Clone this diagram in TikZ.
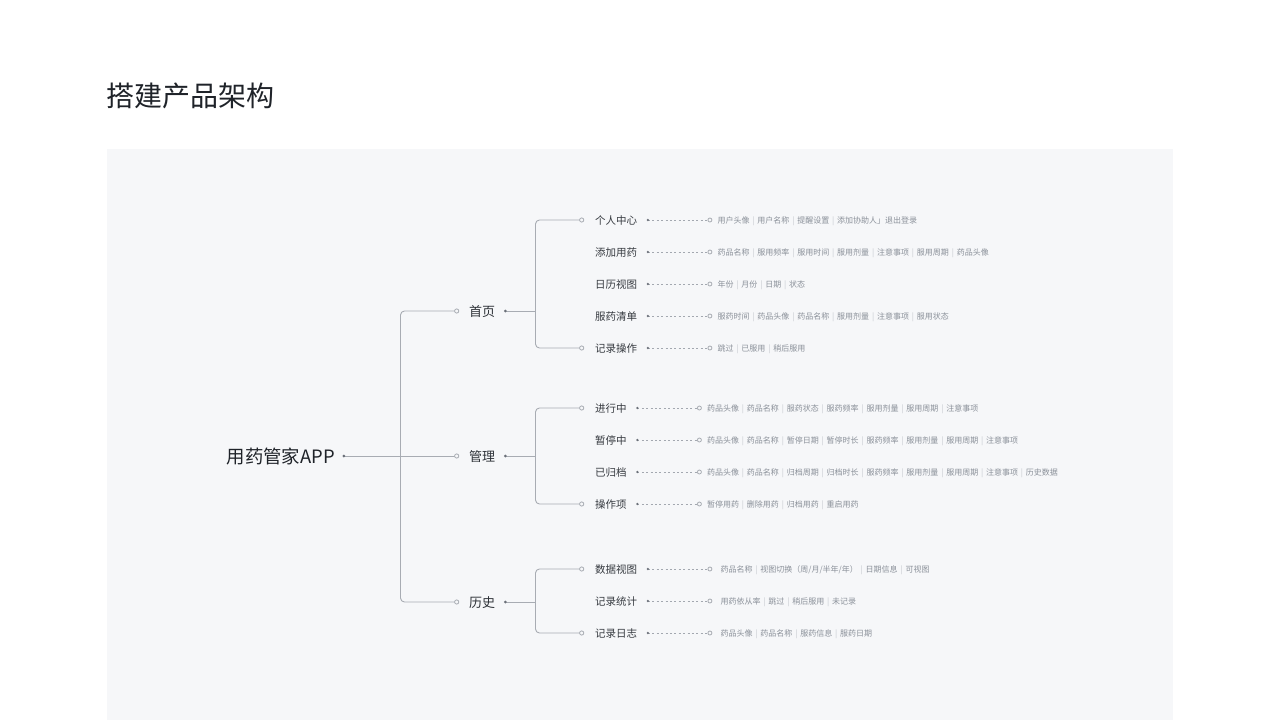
\documentclass[tikz,border=0pt]{standalone}
\usepackage{fontspec}
\setmainfont{Noto Sans CJK SC}
\usetikzlibrary{calc}
\definecolor{panel}{HTML}{F6F7F9}
\definecolor{titlec}{HTML}{1F2329}
\definecolor{lonec}{HTML}{2E3238}
\definecolor{leafc}{HTML}{363A40}
\definecolor{detailc}{HTML}{8A9099}
\definecolor{sepc}{HTML}{C4C8CE}
\definecolor{linec}{HTML}{A8ACB3}
\definecolor{dotc}{HTML}{6B7079}
\definecolor{dashc}{HTML}{A3A8B0}
\newcommand\sepbar{\hspace{2.85pt}{\color{sepc}|}\hspace{2.85pt}}
\tikzset{
  titletext/.style={font=\fontsize{28}{32}\selectfont, text=titlec, anchor=base west, inner sep=0pt},
  rootnode/.style={font=\fontsize{18.4}{22}\selectfont, text=titlec, anchor=west, inner sep=0pt, text height=15.4pt, text depth=0.9pt},
  lone/.style={font=\fontsize{13}{16}\selectfont, text=lonec, anchor=west, inner sep=0pt, text height=11.2pt, text depth=0.65pt},
  leaf/.style={font=\fontsize{10.5}{13}\selectfont, text=leafc, anchor=west, inner sep=0pt, text height=9.4pt, text depth=0.5pt},
  detail/.style={font=\fontsize{8}{10}\selectfont, text=detailc, anchor=west, inner sep=0pt, text height=7.2pt, text depth=0.4pt},
  conn/.style={draw=linec, line width=0.9pt, rounded corners=4pt},
  dashline/.style={draw=dashc, line width=0.8pt, dash pattern=on 2pt off 2.4pt},
  opencirc/.style={draw=linec, line width=0.8pt, fill=panel},
  soliddot/.style={fill=dotc},
}
% leaf row: [gap], name, y, label, details
\newcommand\leafrow[5][7.5]{%
  \node[leaf] (#2) at (595,#3) {#4};
  \coordinate (#2l) at (581.7,#3);
  \coordinate (#2d) at ($(#2.east)+(10.5,0)$);
  \coordinate (#2c) at ($(#2d)+(62,0)$);
  \draw[dashline] (#2d) -- (#2c);
  \fill[soliddot] (#2d) circle (1.3pt);
  \draw[opencirc] (#2c) circle (2pt);
  \node[detail] (#2t) at ($(#2c)+(#1,0)$) {#5};
}
\begin{document}
\begin{tikzpicture}[x=1pt,y=-1pt]
\useasboundingbox (0,0) rectangle (1280,720);
\fill[white] (0,0) rectangle (1280,720);
\fill[panel] (107,149) rectangle (1173,720);

\node[titletext] (title) at (106.5,106.5) {搭建产品架构};

% root
\node[rootnode] (root) at (226.5,456) {用药管家APP};
\coordinate (rootd) at ($(root.east)+(9,0)$);

% level 1
\node[lone] (home) at (469,311) {首页};
\node[lone] (mgmt) at (469,456) {管理};
\node[lone] (hist) at (469,602) {历史};
\coordinate (homec) at (456.7,311);
\coordinate (mgmtc) at (456.7,456);
\coordinate (histc) at (456.7,602);
\coordinate (homed) at ($(home.east)+(10,0)$);
\coordinate (mgmtd) at ($(mgmt.east)+(10,0)$);
\coordinate (histd) at ($(hist.east)+(10,0)$);
\coordinate (tone) at (400.5,456);
\coordinate (ttwo) at (535.5,456);

% leaves
\leafrow{hA}{220}{个人中心}{用户头像\sepbar 用户名称\sepbar 提醒设置\sepbar 添加协助人」退出登录}
\leafrow{hB}{252}{添加用药}{药品名称\sepbar 服用频率\sepbar 服用时间\sepbar 服用剂量\sepbar 注意事项\sepbar 服用周期\sepbar 药品头像}
\leafrow{hC}{284}{日历视图}{年份\sepbar 月份\sepbar 日期\sepbar 状态}
\leafrow{hD}{316}{服药清单}{服药时间\sepbar 药品头像\sepbar 药品名称\sepbar 服用剂量\sepbar 注意事项\sepbar 服用状态}
\leafrow{hE}{348}{记录操作}{跳过\sepbar 已服用\sepbar 稍后服用}

\leafrow{mA}{408}{进行中}{药品头像\sepbar 药品名称\sepbar 服药状态\sepbar 服药频率\sepbar 服用剂量\sepbar 服用周期\sepbar 注意事项}
\leafrow{mB}{440}{暂停中}{药品头像\sepbar 药品名称\sepbar 暂停日期\sepbar 暂停时长\sepbar 服药频率\sepbar 服用剂量\sepbar 服用周期\sepbar 注意事项}
\leafrow{mC}{472}{已归档}{药品头像\sepbar 药品名称\sepbar 归档周期\sepbar 归档时长\sepbar 服药频率\sepbar 服用剂量\sepbar 服用周期\sepbar 注意事项\sepbar 历史数据}
\leafrow{mD}{504}{操作项}{暂停用药\sepbar 删除用药\sepbar 归档用药\sepbar 重启用药}

\leafrow[10.5]{sA}{569}{数据视图}{药品名称\sepbar 视图切换（周/月/半年/年）\sepbar 日期信息\sepbar 可视图}
\leafrow[10.5]{sB}{601}{记录统计}{用药依从率\sepbar 跳过\sepbar 稍后服用\sepbar 未记录}
\leafrow[10.5]{sC}{633}{记录日志}{药品头像\sepbar 药品名称\sepbar 服药信息\sepbar 服药日期}

% level-1 connectors
\draw[conn] (rootd) -- (mgmtc);
\draw[conn] (homec) -- (homec -| tone) -- (histc -| tone) -- (histc);

% level-2 connectors
\draw[conn] (homed) -- (homed -| ttwo);
\draw[conn] (hAl) -- (hAl -| ttwo) -- (hEl -| ttwo) -- (hEl);
\draw[conn] (mgmtd) -- (mgmtd -| ttwo);
\draw[conn] (mAl) -- (mAl -| ttwo) -- (mDl -| ttwo) -- (mDl);
\draw[conn] (histd) -- (histd -| ttwo);
\draw[conn] (sAl) -- (sAl -| ttwo) -- (sCl -| ttwo) -- (sCl);

% dots and open circles
\fill[soliddot] (rootd) circle (1.5pt);
\fill[soliddot] (homed) circle (1.5pt);
\fill[soliddot] (mgmtd) circle (1.5pt);
\fill[soliddot] (histd) circle (1.5pt);
\foreach \c in {homec,mgmtc,histc,hAl,hEl,mAl,mDl,sAl,sCl}
  \draw[opencirc] (\c) circle (2.1pt);
\end{tikzpicture}
\end{document}
